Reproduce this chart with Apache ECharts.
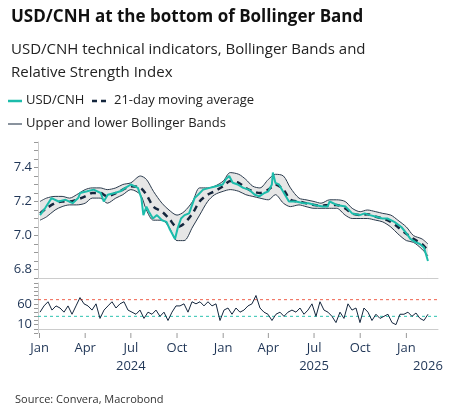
<!DOCTYPE html>
<html>
<head>
<meta charset="utf-8">
<script src="https://cdn.jsdelivr.net/npm/echarts@6/dist/echarts.min.js"></script>
<style>
  html, body { margin: 0; padding: 0; background: #fff; }
  #chart { width: 455px; height: 416px; }
</style>
</head>
<body>
<div id="chart"></div>
<script>
// USD/CNH spot
const priceDates = [
    "2024-01-02", "2024-01-12", "2024-01-25", "2024-02-08", "2024-02-22", "2024-03-07", "2024-03-18",
    "2024-03-22", "2024-04-05", "2024-04-18", "2024-05-02", "2024-05-08", "2024-05-16", "2024-05-30",
    "2024-06-10", "2024-06-20", "2024-07-01", "2024-07-08", "2024-07-15", "2024-07-22", "2024-07-26",
    "2024-08-01", "2024-08-06", "2024-08-14", "2024-08-22", "2024-09-01", "2024-09-10", "2024-09-16",
    "2024-09-27", "2024-10-02", "2024-10-09", "2024-10-16", "2024-10-25", "2024-11-05", "2024-11-12",
    "2024-11-22", "2024-12-05", "2024-12-18", "2024-12-31", "2025-01-06", "2025-01-13", "2025-01-20",
    "2025-01-30", "2025-02-10", "2025-02-21", "2025-03-05", "2025-03-14", "2025-03-24", "2025-04-01",
    "2025-04-08", "2025-04-10", "2025-04-15", "2025-04-22", "2025-04-30", "2025-05-12", "2025-05-26",
    "2025-06-10", "2025-06-20", "2025-07-02", "2025-07-18", "2025-07-28", "2025-08-01", "2025-08-15",
    "2025-09-02", "2025-09-15", "2025-09-30", "2025-10-10", "2025-10-20", "2025-11-02", "2025-11-14",
    "2025-11-24", "2025-12-08", "2025-12-22", "2026-01-02", "2026-01-09", "2026-01-20", "2026-01-28",
    "2026-02-05", "2026-02-13"
];
const priceValues = [
    7.12, 7.16, 7.22, 7.20, 7.21, 7.19, 7.22,
    7.25, 7.26, 7.27, 7.25, 7.20, 7.24, 7.25,
    7.26, 7.28, 7.30, 7.29, 7.28, 7.22, 7.12,
    7.17, 7.14, 7.10, 7.12, 7.09, 7.08, 7.04,
    6.98, 7.04, 7.10, 7.12, 7.13, 7.22, 7.24,
    7.27, 7.28, 7.29, 7.30, 7.33, 7.35, 7.31,
    7.30, 7.28, 7.27, 7.24, 7.23, 7.25, 7.26,
    7.30, 7.37, 7.31, 7.30, 7.26, 7.20, 7.20,
    7.19, 7.19, 7.18, 7.17, 7.17, 7.20, 7.18,
    7.17, 7.13, 7.12, 7.13, 7.12, 7.11, 7.10,
    7.10, 7.08, 7.05, 7.01, 6.98, 6.96, 6.95,
    6.93, 6.85
];

// 21-day moving average and Bollinger bands
const bandDates = [
    "2024-01-02", "2024-01-15", "2024-02-01", "2024-02-15", "2024-03-01", "2024-03-15", "2024-04-01",
    "2024-04-15", "2024-05-01", "2024-05-15", "2024-06-01", "2024-06-15", "2024-07-01", "2024-07-20",
    "2024-08-01", "2024-08-15", "2024-09-01", "2024-09-15", "2024-10-01", "2024-10-15", "2024-11-01",
    "2024-11-15", "2024-12-01", "2024-12-15", "2025-01-01", "2025-01-15", "2025-02-01", "2025-02-15",
    "2025-03-01", "2025-03-15", "2025-04-01", "2025-04-15", "2025-05-01", "2025-05-15", "2025-06-01",
    "2025-06-15", "2025-07-01", "2025-07-15", "2025-08-01", "2025-08-15", "2025-09-01", "2025-09-15",
    "2025-10-01", "2025-10-15", "2025-11-01", "2025-11-15", "2025-12-01", "2025-12-15", "2026-01-01",
    "2026-01-15", "2026-02-01", "2026-02-13"
];
const maValues = [
    7.13, 7.16, 7.19, 7.20, 7.20, 7.21, 7.23, 7.25, 7.25, 7.23, 7.25, 7.27, 7.29, 7.28,
    7.24, 7.17, 7.14, 7.10, 7.05, 7.07, 7.13, 7.20, 7.24, 7.26, 7.29, 7.32, 7.31, 7.28,
    7.26, 7.25, 7.27, 7.30, 7.27, 7.21, 7.20, 7.19, 7.18, 7.175, 7.18, 7.18, 7.16, 7.13,
    7.12, 7.125, 7.11, 7.10, 7.08, 7.05, 7.01, 6.98, 6.95, 6.91
];
const upperValues = [
    7.20, 7.22, 7.23, 7.23, 7.22, 7.24, 7.27, 7.28, 7.28, 7.27, 7.28, 7.30, 7.31, 7.35,
    7.33, 7.26, 7.19, 7.15, 7.12, 7.14, 7.20, 7.28, 7.28, 7.29, 7.32, 7.37, 7.36, 7.33,
    7.29, 7.28, 7.33, 7.36, 7.35, 7.28, 7.22, 7.21, 7.20, 7.19, 7.21, 7.21, 7.20, 7.16,
    7.14, 7.15, 7.14, 7.13, 7.12, 7.09, 7.05, 7.00, 6.98, 6.95
];
const lowerValues = [
    7.09, 7.11, 7.15, 7.17, 7.18, 7.18, 7.19, 7.22, 7.22, 7.19, 7.22, 7.24, 7.27, 7.24,
    7.15, 7.09, 7.09, 7.05, 6.97, 6.97, 7.05, 7.12, 7.20, 7.24, 7.26, 7.27, 7.26, 7.24,
    7.23, 7.22, 7.21, 7.24, 7.19, 7.17, 7.18, 7.17, 7.16, 7.16, 7.16, 7.16, 7.12, 7.10,
    7.10, 7.10, 7.09, 7.08, 7.05, 7.01, 6.97, 6.96, 6.92, 6.88
];

// Relative Strength Index, roughly weekly from Jan 2024 to mid-Feb 2026
const rsiStart = "2024-01-02";
const rsiEnd = "2026-02-13";
const rsiValues = [
    40, 55, 65, 45, 55, 50, 40, 55, 35, 55, 75, 60, 55, 45, 60, 25, 45, 55, 65, 50,
    60, 65, 45, 40, 35, 45, 25, 40, 35, 45, 30, 40, 20, 40, 55, 55, 60, 40, 65, 60,
    65, 55, 65, 55, 60, 20, 45, 50, 35, 50, 40, 45, 55, 60, 80, 50, 40, 35, 20, 35,
    40, 30, 40, 45, 40, 50, 35, 45, 60, 30, 65, 45, 40, 30, 15, 40, 25, 60, 45, 50,
    15, 50, 40, 20, 35, 25, 30, 35, 15, 10, 35, 35, 40, 30, 38, 25, 20, 35
];
const rsiOverbought = 70;
const rsiOversold = 30;

const monthTicks = [
    "2024-01-01", "2024-04-01", "2024-07-01", "2024-10-01", "2025-01-01",
    "2025-04-01", "2025-07-01", "2025-10-01", "2026-01-01"
];
const monthLabels = ["Jan", "Apr", "Jul", "Oct", "Jan", "Apr", "Jul", "Oct", "Jan"];
const yearLabels = [["2024", "2024-07-01"], ["2025", "2025-07-01"], ["2026", "2026-02-13"]];

const TEAL = "#1cbcab";
const NAVY = "#14263d";
const AXIS_TEXT = "#1f3556";
const FONT = "'Open Sans', sans-serif";

const pair = (dates, values) => dates.map((d, i) => [d, values[i]]);

function rsiData() {
    const t0 = Date.parse(rsiStart);
    const step = (Date.parse(rsiEnd) - t0) / (rsiValues.length - 1);
    return rsiValues.map((v, i) => [t0 + i * step, v]);
}

function refLine(value, color) {
    return {
        type: "line", xAxisIndex: 1, yAxisIndex: 1, symbol: "none", silent: true, z: 3,
        data: [[X_MIN, value], [X_MAX, value]],
        lineStyle: { color: color, width: 1, type: [3, 3] },
    };
}

const X_MIN = Date.parse("2023-12-29");
const X_MAX = Date.parse("2026-03-05");

const chart = echarts.init(document.getElementById("chart"));

const legendText = { fill: "#222", font: `13px ${FONT}` };

chart.setOption({
    animation: false,
    textStyle: { fontFamily: FONT },
    title: [
        { text: "USD/CNH at the bottom of Bollinger Band", left: 6, top: 4,
          textStyle: { fontSize: 17, fontWeight: "bold", color: "#111", fontFamily: FONT } },
        { text: "USD/CNH technical indicators, Bollinger Bands and\nRelative Strength Index", left: 6, top: 33,
          textStyle: { fontSize: 15, fontWeight: "normal", color: "#222", lineHeight: 23, fontFamily: FONT } },
        { text: "Source: Convera, Macrobond", left: 10, top: 389,
          textStyle: { fontSize: 11, fontWeight: "normal", color: "#333", fontFamily: FONT } },
    ],
    grid: [
        { left: 38, right: 17, top: 142, height: 136 },
        { left: 38, right: 17, top: 283, height: 50 },
    ],
    xAxis: [
        { type: "time", gridIndex: 0, min: X_MIN, max: X_MAX,
          axisLine: { lineStyle: { color: "#ccc" } }, axisTick: { show: false },
          axisLabel: { show: false }, splitLine: { show: false } },
        { type: "time", gridIndex: 1, min: X_MIN, max: X_MAX,
          axisLine: { lineStyle: { color: "#ccc" } }, axisTick: { show: false },
          axisLabel: { show: false }, splitLine: { show: false } },
    ],
    yAxis: [
        { type: "value", gridIndex: 0, min: 6.75, max: 7.55, interval: 0.05,
          axisLine: { show: true, lineStyle: { color: "#ccc" } },
          axisTick: { show: true, length: 4, lineStyle: { color: "#999" } },
          axisLabel: { color: AXIS_TEXT, fontSize: 13, margin: 6,
            formatter: (v) => {
                const r = Math.round(v * 100);
                return r % 20 === 0 && r >= 680 && r <= 740 ? (r / 100).toFixed(1) : "";
            } },
          splitLine: { show: false } },
        { type: "value", gridIndex: 1, min: -10, max: 110, interval: 10,
          axisLine: { show: true, lineStyle: { color: "#ccc" } },
          axisTick: { show: true, length: 4, lineStyle: { color: "#999" } },
          axisLabel: { color: AXIS_TEXT, fontSize: 13, margin: 6,
            formatter: (v) => (v === 10 || v === 60 ? String(v) : "") },
          splitLine: { show: false } },
    ],
    series: [
        { name: "upper", type: "line", xAxisIndex: 0, yAxisIndex: 0, data: pair(bandDates, upperValues),
          smooth: 0.3, symbol: "none", lineStyle: { color: "#2a3a4c", width: 1 },
          areaStyle: { color: "#e6e6e6", opacity: 1, origin: "start" }, z: 1 },
        { name: "lower", type: "line", xAxisIndex: 0, yAxisIndex: 0, data: pair(bandDates, lowerValues),
          smooth: 0.3, symbol: "none", lineStyle: { color: "#2a3a4c", width: 1 },
          areaStyle: { color: "#ffffff", opacity: 1, origin: "start" }, z: 2 },
        { name: "ma", type: "line", xAxisIndex: 0, yAxisIndex: 0, data: pair(bandDates, maValues),
          smooth: 0.3, symbol: "none", lineStyle: { color: NAVY, width: 2.5, type: [6, 5] }, z: 3 },
        { name: "USD/CNH", type: "line", xAxisIndex: 0, yAxisIndex: 0, data: pair(priceDates, priceValues),
          symbol: "none", lineStyle: { color: TEAL, width: 2 }, z: 4 },
        refLine(rsiOverbought, "#f0604c"),
        refLine(rsiOversold, "#2cc2b0"),
        { name: "RSI", type: "line", xAxisIndex: 1, yAxisIndex: 1, data: rsiData(),
          symbol: "none", lineStyle: { color: NAVY, width: 1 }, z: 4 },
    ],
});

// legend, month ticks and labels placed from the axis scale
const graphics = [
    { type: "line", shape: { x1: 8, y1: 101, x2: 22, y2: 101 }, style: { stroke: TEAL, lineWidth: 2.5 } },
    { type: "text", x: 26, y: 94, style: { text: "USD/CNH", ...legendText } },
    { type: "line", shape: { x1: 92, y1: 101, x2: 110, y2: 101 }, style: { stroke: NAVY, lineWidth: 2.5, lineDash: [5, 4] } },
    { type: "text", x: 114, y: 94, style: { text: "21-day moving average", ...legendText } },
    { type: "line", shape: { x1: 8, y1: 124, x2: 22, y2: 124 }, style: { stroke: NAVY, lineWidth: 1 } },
    { type: "text", x: 26, y: 117, style: { text: "Upper and lower Bollinger Bands", ...legendText } },
];
const axisY = 333;
monthTicks.forEach((d, i) => {
    const x = chart.convertToPixel({ xAxisIndex: 1 }, Date.parse(d));
    graphics.push({ type: "line", shape: { x1: x, y1: axisY, x2: x, y2: axisY + 5 }, style: { stroke: "#999", lineWidth: 1 } });
    graphics.push({ type: "text", x: x, y: axisY + 9,
        style: { text: monthLabels[i], fill: AXIS_TEXT, font: `13px ${FONT}`, textAlign: "center" } });
});
yearLabels.forEach(([label, d]) => {
    const x = chart.convertToPixel({ xAxisIndex: 1 }, Date.parse(d));
    graphics.push({ type: "text", x: x, y: axisY + 27,
        style: { text: label, fill: AXIS_TEXT, font: `13px ${FONT}`, textAlign: "center" } });
});
chart.setOption({ graphic: graphics });
</script>
</body>
</html>
